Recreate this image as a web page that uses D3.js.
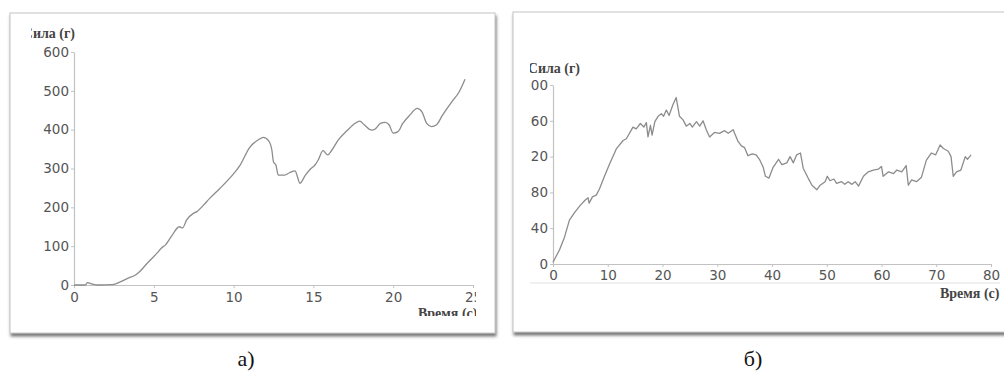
<!DOCTYPE html>
<html>
<head>
<meta charset="utf-8">
<script src="https://cdn.jsdelivr.net/npm/d3@7"></script>
<style>
  html, body { margin: 0; padding: 0; background: #fff; }
  svg { display: block; }
</style>
</head>
<body>
<div id="chart"></div>
<script>
// Panel a) - force vs time (smooth curve)
const timeA = [0, 0.7, 0.85, 1.1, 1.5, 2.4, 2.9, 3.3, 3.9, 4.2, 4.5, 5.2, 5.5, 5.7, 6.1, 6.6, 6.8, 7.05, 7.5, 7.7,
  8.1, 8.5, 9.15, 9.8, 10.4, 11.0, 11.55, 11.86, 12.2, 12.4, 12.5, 12.65, 12.8, 13.2, 13.5, 13.85, 14.0, 14.15,
  14.5, 14.8, 15.1, 15.3, 15.6, 15.9, 16.15, 16.55, 17.1, 17.6, 17.9, 18.2, 18.65, 18.85, 19.2, 19.5, 19.75,
  20.0, 20.3, 20.6, 21.05, 21.5, 21.8, 22.1, 22.4, 22.7, 23.1, 23.75, 24.1, 24.5];
const forceA = [0, 0, 6, 3, 0, 1, 8, 16, 27, 38, 52, 82, 96, 102, 125, 150, 147, 167, 185, 189,
  205, 223, 249, 277, 308, 354, 374, 380, 371, 347, 317, 309, 283, 283, 289, 294, 279, 262,
  283, 298, 309, 322, 346, 335, 347, 373, 397, 416, 422, 412, 399, 401, 416, 419, 412,
  391, 395, 416, 438, 455, 446, 416, 408, 412, 438, 476, 495, 530];
const xTicksA = [0, 5, 10, 15, 20, 25];
const yTicksA = [0, 100, 200, 300, 400, 500, 600];

// Panel б) - force vs time (noisy curve)
const timeB = [0, 0.6, 1.2, 2.1, 3.0, 4.0, 4.9, 5.8, 6.4, 6.6, 7.2, 7.9, 8.5, 9.4, 10.35, 11.6, 12.8, 13.4, 14.6,
  15.2, 15.95, 16.6, 17.05, 17.35, 17.8, 18.1, 18.6, 19.2, 19.8, 20.2, 20.7, 21.2, 21.9, 22.5, 23.1, 23.75,
  24.35, 25.0, 25.45, 26.2, 26.8, 27.4, 28.0, 28.6, 29.5, 30.4, 31.35, 32.0, 32.9, 33.8, 34.4, 35.0, 35.6,
  36.4, 37.1, 37.7, 38.4, 38.8, 39.45, 40.2, 41.2, 41.8, 42.7, 43.3, 43.9, 44.5, 45.2, 45.7, 46.6, 47.3,
  48.2, 48.8, 49.7, 50.1, 50.6, 51.3, 51.8, 52.7, 53.3, 53.9, 54.6, 55.2, 55.8, 56.7, 57.6, 58.5, 59.4,
  60.0, 60.3, 61.3, 62.2, 62.8, 63.7, 64.5, 64.9, 65.5, 66.4, 67.3, 68.2, 69.1, 69.9, 70.7, 71.3, 72.2,
  72.7, 73.1, 73.7, 74.5, 75.3, 75.7, 76.35];
const forceB = [2, 9, 16, 30, 49, 58, 65, 71, 74, 68, 75, 77, 84, 98, 112, 129, 138, 140, 153,
  151, 157, 153, 158, 142, 155, 144, 159, 165, 168, 165, 172, 166, 178, 186, 165, 161,
  154, 157, 153, 159, 154, 160, 150, 142, 147, 146, 149, 146, 150, 137, 132, 130, 121,
  123, 122, 117, 108, 98, 96, 108, 117, 111, 113, 120, 113, 122, 124, 107, 96, 88,
  83, 88, 92, 98, 93, 95, 90, 92, 89, 92, 89, 92, 87, 98, 103, 105, 106,
  109, 98, 103, 101, 105, 103, 110, 88, 94, 92, 97, 116, 124, 122, 133, 129, 126,
  120, 98, 103, 105, 120, 117, 122];
const xTicksB = [0, 10, 20, 30, 40, 50, 60, 70, 80];
const yTicksB = [0, 40, 80, 120, 160, 200];

const yTitle = 'Сила (г)';
const xTitle = 'Время (с)';
const panelLabels = ['а)', 'б)'];

const W = 1004, H = 376;
const svg = d3.select('#chart').append('svg').attr('width', W).attr('height', H);
svg.append('rect').attr('width', W).attr('height', H).attr('fill', '#fff');

const defs = svg.append('defs');
defs.append('filter').attr('id', 'shadow')
  .attr('x', '-5%').attr('y', '-5%').attr('width', '110%').attr('height', '115%')
  .append('feDropShadow')
  .attr('dx', 1).attr('dy', 3).attr('stdDeviation', 1.8)
  .attr('flood-color', '#555').attr('flood-opacity', 0.8);

function clip(id, x, y, w, h) {
  defs.append('clipPath').attr('id', id)
    .append('rect').attr('x', x).attr('y', y).attr('width', w).attr('height', h);
}
clip('clipA', 31, 0, 445, 316);
clip('clipB', 530, 0, 470, 330);

// picture frames
svg.append('rect').attr('x', 10).attr('y', 13).attr('width', 485).attr('height', 320)
  .attr('fill', '#fff').attr('stroke', '#c4c4c4').attr('stroke-width', 1)
  .attr('filter', 'url(#shadow)');
svg.append('rect').attr('x', 513).attr('y', 12).attr('width', 520).attr('height', 320)
  .attr('fill', '#fff').attr('stroke', '#c4c4c4').attr('stroke-width', 1)
  .attr('filter', 'url(#shadow)');

function styleAxis(axis) {
  axis.select('.domain').attr('stroke', '#c2c2c2').attr('stroke-width', 1.2);
  axis.selectAll('line').attr('stroke', '#c2c2c2');
  axis.selectAll('text').attr('fill', '#555')
    .style('font-family', '"DejaVu Sans", Verdana, sans-serif').style('font-size', '13.5px');
}

function drawPanel(opts) {
  const g = svg.append('g').attr('clip-path', `url(#${opts.clip})`);
  const x = d3.scaleLinear().domain(opts.xDomain).range(opts.xRange);
  const y = d3.scaleLinear().domain(opts.yDomain).range(opts.yRange);

  if (opts.band) {
    g.append('line').attr('x1', opts.band[0]).attr('x2', opts.band[1])
      .attr('y1', opts.band[2]).attr('y2', opts.band[2])
      .attr('stroke', '#f0f0f0').attr('stroke-width', 2);
  }

  g.append('g').attr('transform', `translate(${opts.xRange[0]},0)`)
    .call(d3.axisLeft(y).tickValues(opts.yTicks).tickSize(3).tickPadding(2).tickSizeOuter(0))
    .call(styleAxis);
  g.append('g').attr('transform', `translate(0,${opts.yRange[0]})`)
    .call(d3.axisBottom(x).tickValues(opts.xTicks).tickSize(3).tickPadding(opts.xPad).tickSizeOuter(0))
    .call(styleAxis);

  const pts = opts.time.map((t, i) => [t, opts.force[i]]);
  g.append('path').datum(pts)
    .attr('fill', 'none').attr('stroke', '#8c8c8c').attr('stroke-width', 1.3)
    .attr('stroke-linejoin', 'round')
    .attr('d', d3.line().x((d) => x(d[0])).y((d) => y(d[1])).curve(opts.curve));

  const titleFont = '"Liberation Serif", "DejaVu Serif", serif';
  g.append('text').attr('x', opts.yTitlePos[0]).attr('y', opts.yTitlePos[1])
    .attr('text-anchor', 'end').attr('fill', '#444')
    .style('font-family', titleFont).style('font-size', '14px').style('font-weight', 700)
    .text(yTitle);
  g.append('text').attr('x', opts.xTitlePos[0]).attr('y', opts.xTitlePos[1])
    .attr('fill', '#444')
    .style('font-family', titleFont).style('font-size', '14px').style('font-weight', 700)
    .text(xTitle);
}

drawPanel({
  clip: 'clipA', time: timeA, force: forceA, xTicks: xTicksA, yTicks: yTicksA,
  xDomain: [0, 25], xRange: [74, 473], yDomain: [0, 600], yRange: [285, 52], xPad: 4,
  curve: d3.curveMonotoneX, yTitlePos: [75, 38], xTitlePos: [418, 318]
});
drawPanel({
  clip: 'clipB', time: timeB, force: forceB, xTicks: xTicksB, yTicks: yTicksB,
  xDomain: [0, 80], xRange: [553, 991], yDomain: [0, 200], yRange: [264, 85], xPad: 3,
  curve: d3.curveLinear, yTitlePos: [580, 73], xTitlePos: [940, 298], band: [530, 1000, 283]
});

svg.selectAll('text.panel-label')
  .data(panelLabels)
  .join('text')
  .attr('class', 'panel-label')
  .attr('x', (d, i) => [246, 753][i])
  .attr('y', 366)
  .attr('text-anchor', 'middle')
  .attr('fill', '#111')
  .style('font-family', '"Liberation Serif", "DejaVu Serif", serif')
  .style('font-size', '22px')
  .text((d) => d);
</script>
</body>
</html>
